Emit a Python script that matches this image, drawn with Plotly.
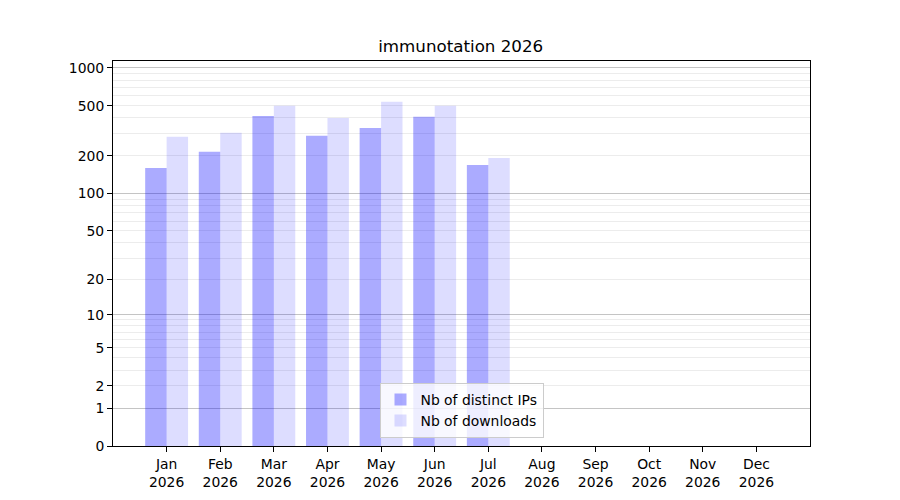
import plotly.graph_objects as go

months = ["Jan", "Feb", "Mar", "Apr", "May", "Jun", "Jul", "Aug", "Sep", "Oct", "Nov", "Dec"]
year = "2026"
distinct_ips = [160, 215, 415, 288, 333, 408, 169, 0, 0, 0, 0, 0]
downloads = [283, 305, 499, 400, 537, 499, 192, 0, 0, 0, 0, 0]

major_ticks = [0, 1, 10, 100, 1000]
extra_ticks = [2, 5, 20, 50, 200, 500]
minor_grid = [m * 10 ** k for k in range(0, 3) for m in range(2, 10)]

# scale is log10(1 + value): plot 1 + value on a log axis
def shift(vals):
    return [v + 1 for v in vals]

cats = [f"{m}<br>{year}" for m in months]

fig = go.Figure()
fig.add_trace(go.Bar(x=cats, y=shift(distinct_ips), name="Nb of distinct IPs",
                     marker=dict(color="rgba(0,0,255,0.33)", line=dict(width=0))))
fig.add_trace(go.Bar(x=cats, y=shift(downloads), name="Nb of downloads",
                     marker=dict(color="rgba(0,0,255,0.135)", line=dict(width=0))))

yr = [0, 3.055]
fig.update_layout(
    width=900, height=500,
    margin=dict(l=105, r=98, t=53, b=62),
    paper_bgcolor="white", plot_bgcolor="white",
    font=dict(family="DejaVu Sans", size=13.9, color="black"),
    barmode="group", bargap=0.2, bargroupgap=0,
    title=dict(text="immunotation 2026", x=0.503, xanchor="center", y=0.924,
               yanchor="middle", yref="container", font=dict(size=16.7),
               automargin=False),
    showlegend=True,
    legend=dict(x=0.5, xanchor="center", y=0.021, yanchor="bottom",
                bgcolor="rgba(255,255,255,0.8)", bordercolor="#cccccc",
                borderwidth=1, traceorder="normal", font=dict(size=13.9)),
    xaxis=dict(type="category", range=[-1, 12], showline=True, linecolor="black",
               linewidth=1, mirror=True, ticks="outside", ticklen=5,
               tickcolor="black", showgrid=False, automargin=False),
    yaxis=dict(type="log", range=yr, showline=True, linecolor="black", linewidth=1,
               mirror=True, ticks="outside", ticklen=5, tickcolor="black",
               tickmode="array", tickvals=shift(major_ticks),
               ticktext=[str(t) for t in major_ticks], automargin=False,
               showgrid=True, gridcolor="#c4c4c4", gridwidth=1, zeroline=False,
               minor=dict(tickmode="array", tickvals=shift(minor_grid), showgrid=True,
                          gridcolor="#ececec", gridwidth=1, ticks="")),
    yaxis2=dict(type="log", range=yr, overlaying="y", side="left", anchor="x",
                showline=False, ticks="outside", ticklen=5, tickcolor="black",
                tickmode="array", tickvals=shift(extra_ticks), automargin=False,
                ticktext=[str(t) for t in extra_ticks], showgrid=False, zeroline=False),
)
# invisible trace to activate yaxis2
fig.add_trace(go.Scatter(x=[cats[0]], y=[1], yaxis="y2", mode="markers",
                         marker=dict(opacity=0), showlegend=False, hoverinfo="skip"))

fig.write_html("out.html")
